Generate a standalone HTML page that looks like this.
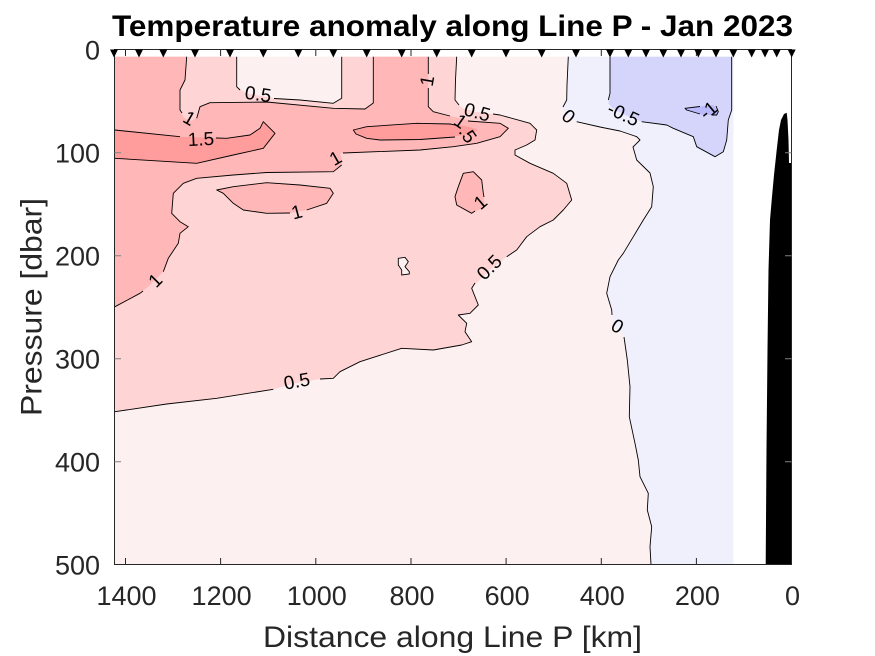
<!DOCTYPE html>
<html>
<head>
<meta charset="utf-8">
<style>
html,body{margin:0;padding:0;background:#fff;}
svg{display:block;}
text{font-family:"Liberation Sans",Arial,sans-serif;}
</style>
</head>
<body>
<svg width="875" height="656" viewBox="0 0 875 656" xmlns="http://www.w3.org/2000/svg">
<rect x="0" y="0" width="875" height="656" fill="#ffffff"/>

<!-- base 0..0.5 -->
<rect x="114.7" y="56.7" width="618.6" height="508" fill="#FDF0F0"/>

<!-- -0.5..0 -->
<polygon fill="#F0F0FD" points="568.3,56.7 567,85 566.7,100 563,107 566,116 576.7,121.7 600,127 620,131 636.7,136.7 640,140 633,147 636.7,160 650,173 653.3,186.7 651.7,206.7 643.3,220 633.3,236.7 623.3,253.3 618.3,260 610,276.7 606.7,293.3 611.7,310 613,320 618,330 625,336.7 627.3,360 630,386.7 629.3,416.7 635,443.3 638.3,460 640,476.7 648.3,493.3 647.3,510 651.7,526.7 650,546.7 651,564.7 733.3,564.7 733.3,56.7"/>

<!-- -1..-0.5 -->
<polygon fill="#D5D5FC" points="610,56.7 610,93.3 608.3,103.3 612,108 625,115 641.7,121.7 666.7,125 673.3,128.3 693.3,136.7 696.7,146.7 715,156.7 723.3,151.7 726.7,140 728.3,120 731.7,110 731.7,56.7"/>

<!-- < -1 -->
<polygon fill="#B9B9FB" points="685,108.3 713.3,105 718.3,111.7 716.7,115 703.3,115 686.7,110"/>

<!-- 0.5..1 -->
<polygon fill="#FFD4D4" points="114.7,56.7 236.7,56.7 236.7,86.7 246.7,93.3 273.3,98.3 300,100 333.3,103.3 341.7,98.3 341.7,56.7 456.7,56.7 455,100 462,108 476.7,112 500,115 530,123.3 536.7,130 535,140 526.7,145 515,150 515,155 530,163.3 553.3,173.3 566.7,183.3 571.7,200 563.3,210 553.3,220 540,226.7 526.7,236.7 516.7,250 506.7,256.7 490,270 476.7,283 471.7,288.3 478.3,305 470,313.3 458.3,315 466.7,323.3 465,331.7 471.7,341.7 461.7,345 433.3,350 401.7,348.3 360,361.7 340,371.7 333.3,378.3 320,379 296,383 273.3,389.3 216.7,398.3 166.7,404 115,411.7 114.7,411.7"/>

<!-- 1..1.5 -->
<polygon fill="#FFB7B7" points="114.7,56.7 186.7,56.7 185,80 180,90 180,110 184,118 192,121 198,116 200,106.7 210,102.7 266.7,102 333.3,108.3 365,109 373.3,103 373.3,56.7 428.3,56.7 428.3,106.7 433.3,111.7 450,116 470,120.5 500,123.3 508.3,128.3 500,136.7 476.7,143.3 453.3,146.7 420,150 340,153.3 342,160 341.7,165 333.3,171.7 266.7,172.5 233.3,175 196.7,178.3 183.3,183.3 173.3,193.3 171.7,213.3 180,221.7 188.3,226.7 180,233.3 178.3,243.3 168.3,258.3 163.3,271.7 150,285 140,293.3 115,306.7 114.7,306.7"/>
<polygon fill="#FFB7B7" points="243.3,210 233.3,203.3 223.3,193.3 216.7,190 233.3,186.7 266.7,182.7 300,185 330,188.3 333.3,193.3 326.7,203.3 306.7,210 290,213 266.7,213.3"/>
<polygon fill="#FFB7B7" points="471.7,213.3 456.7,205 455,196.7 458.3,186.7 463.3,173.3 473.3,171.7 481.7,180 483.3,193.3 485,206.7"/>

<!-- >1.5 -->
<polygon fill="#FF9D9D" points="114.7,130 180,136.7 226.7,138.3 250,135 260,128.3 263.3,121.7 275,133.3 263.3,148.3 233.3,155 196.7,163.3 114.7,158.3"/>
<polygon fill="#FF9D9D" points="353.3,130 366.7,126.7 416.7,123.3 450,124 470,127 478.3,130 470,134 450,137 420,139.5 380,140 366.7,138.3 356,134"/>

<!-- 0..0.5 island -->
<path d="M398.3,258.3 L405,257.3 L408.3,261.7 L405,266.7 L409.3,271.7 L409.3,274 L401.7,275 L401.7,270 L398.3,265 Z" fill="#FDF0F0" stroke="#000" stroke-width="0.9"/>

<!-- contour lines -->
<g fill="none" stroke="#000" stroke-width="0.9" stroke-linejoin="round">
<path d="M236.7,56.7 L236.7,86.7 L240,90 M274,98.5 L300,100 L333.3,103.3 L341.7,98.3 L341.7,56.7"/>
<path d="M456.7,56.7 L455.5,80 L455,100 L459,105 M493,114 L500,115 L530,123.3 L536.7,130 L535,140 L526.7,145 L515,150 L515,155 L530,163.3 L553.3,173.3 L566.7,183.3 L571.7,200 L563.3,210 L553.3,220 L540,226.7 L526.7,236.7 L516.7,250 L506.7,256.7 M475,283 L471.7,288.3 L478.3,305 L470,313.3 L458.3,315 L466.7,323.3 L465,331.7 L471.7,341.7 L461.7,345 L433.3,350 L401.7,348.3 L360,361.7 L340,371.7 L333.3,378.3 L320,379 M273.3,389.3 L216.7,398.3 L166.7,404 L115,411.7"/>
<path d="M186.7,56.7 L185,80 L180,90 L180,110 L182,113 M196.7,118.3 L200,106.7 L210,102.7 L266.7,102 L333.3,108.3 L365,109 L373.3,103 L373.3,56.7"/>
<path d="M428.3,56.7 L428.3,74 M428.3,88 L428.3,106.7 L433.3,111.7 L450,116 M468,121 L500,123.3 L508.3,128.3 L500,136.7 L476.7,143.3 L453.3,146.7 L420,150 L343,153 M341.7,165 L333.3,171.7 L266.7,172.5 L233.3,175 L196.7,178.3 L183.3,183.3 L173.3,193.3 L171.7,213.3 L180,221.7 L188.3,226.7 L180,233.3 L178.3,243.3 L168.3,258.3 L163.3,271.7 M143,291 L140,293.3 L115,306.7"/>
<path d="M290,213 L266.7,213.3 L243.3,210 L233.3,203.3 L223.3,193.3 L216.7,190 L233.3,186.7 L266.7,182.7 L300,185 L330,188.3 L333.3,193.3 L326.7,203.3 L306.7,210"/>
<path d="M484,197 L483.3,193.3 L481.7,180 L473.3,171.7 L463.3,173.3 L458.3,186.7 L455,196.7 L456.7,205 L471.7,213.3 L475,211"/>
<path d="M114.7,130 L180,136.7 M216,138 L226.7,138.3 L250,135 L260,128.3 L263.3,121.7 L275,133.3 L263.3,148.3 L233.3,155 L196.7,163.3 L114.7,158.3"/>
<path d="M455,137 L420,139.5 L380,140 L366.7,138.3 L356,134 L353.3,130 L366.7,126.7 L416.7,123.3 L450,124 L458,125.5"/>
<path d="M568.3,56.7 L567,85 L566.7,100 L563,107 M576.7,121.7 L600,127 L620,131 L636.7,136.7 L640,140 L633,147 L636.7,160 L650,173 L653.3,186.7 L651.7,206.7 L643.3,220 L633.3,236.7 L623.3,253.3 L618.3,260 L610,276.7 L606.7,293.3 L611.7,310 L612,315 M624,337 L627.3,360 L630,386.7 L629.3,416.7 L635,443.3 L638.3,460 L640,476.7 L648.3,493.3 L647.3,510 L651.7,526.7 L650,546.7 L651,564.7"/>
<path d="M610,56.7 L610,93.3 L608.3,100 M641.7,121.7 L666.7,125 L673.3,128.3 L693.3,136.7 L696.7,146.7 L715,156.7 L723.3,151.7 L726.7,140 L728.3,120 L731.7,110 L731.7,56.7"/>
<path d="M700,114 L686.7,110 L685,108.3 L700,106.5 M716,106 L718.3,111.7 L716.7,115 L712,115"/>
</g>

<!-- contour labels -->
<g font-size="19" fill="#000" text-anchor="middle" dominant-baseline="central">
<text transform="translate(258,95) rotate(8)">0.5</text>
<text transform="translate(189,119) rotate(30)">1</text>
<text transform="translate(201,140) rotate(-3)">1.5</text>
<text transform="translate(297,213) rotate(-15)">1</text>
<text transform="translate(156,281) rotate(-45)">1</text>
<text transform="translate(297,382) rotate(-10)">0.5</text>
<text transform="translate(428,81) rotate(-80)">1</text>
<text transform="translate(477,113) rotate(15)">0.5</text>
<text transform="translate(460,122) rotate(35)">1</text>
<text transform="translate(467,135) rotate(55)">.5</text>
<text transform="translate(336,159) rotate(-30)">1</text>
<text transform="translate(481,203) rotate(-40)">1</text>
<text transform="translate(490,268) rotate(-45)">0.5</text>
<text transform="translate(568,117) rotate(40)">0</text>
<text transform="translate(623,115) rotate(25)">-0.5</text>
<text transform="translate(709,111) rotate(-40)">-1</text>
<text transform="translate(617,327) rotate(30)">0</text>
</g>

<!-- bathymetry -->
<polygon fill="#000" points="765.7,564.7 766.5,450 767.5,350 768.5,270 770,220 771.7,200 774,175 776.7,150 779,130 781,120 784,114 786.7,112.7 787.5,120 788.5,140 789,163 791.7,163 791.7,564.7"/>

<!-- axes box -->
<g stroke="#262626" stroke-width="1" fill="none">
<rect x="114.5" y="49.5" width="677" height="515"/>
<!-- x ticks -->
<path d="M125.5,564.5 v-6.5 M220.6,564.5 v-6.5 M315.8,564.5 v-6.5 M411,564.5 v-6.5 M506.1,564.5 v-6.5 M601.3,564.5 v-6.5 M696.4,564.5 v-6.5
M125.5,49.5 v6.5 M220.6,49.5 v6.5 M315.8,49.5 v6.5 M411,49.5 v6.5 M506.1,49.5 v6.5 M601.3,49.5 v6.5 M696.4,49.5 v6.5"/>
<!-- y ticks -->
<path d="M114.5,152.7 h6.5 M114.5,255.7 h6.5 M114.5,358.7 h6.5 M114.5,461.7 h6.5
M791.5,152.7 h-6.5 M791.5,255.7 h-6.5 M791.5,358.7 h-6.5 M791.5,461.7 h-6.5" stroke="#808080"/>
</g>

<!-- station markers -->
<g fill="#000">
<polygon points="110,49.5 118,49.5 114,57.5"/>
<polygon points="135,49.5 143,49.5 139,57.5"/>
<polygon points="159.3,49.5 167.3,49.5 163.3,57.5"/>
<polygon points="191,49.5 199,49.5 195,57.5"/>
<polygon points="226,49.5 234,49.5 230,57.5"/>
<polygon points="259.3,49.5 267.3,49.5 263.3,57.5"/>
<polygon points="294.3,49.5 302.3,49.5 298.3,57.5"/>
<polygon points="329.3,49.5 337.3,49.5 333.3,57.5"/>
<polygon points="362.7,49.5 370.7,49.5 366.7,57.5"/>
<polygon points="397.7,49.5 405.7,49.5 401.7,57.5"/>
<polygon points="432.7,49.5 440.7,49.5 436.7,57.5"/>
<polygon points="467.7,49.5 475.7,49.5 471.7,57.5"/>
<polygon points="502,49.5 510,49.5 506,57.5"/>
<polygon points="537.7,49.5 545.7,49.5 541.7,57.5"/>
<polygon points="572,49.5 580,49.5 576,57.5"/>
<polygon points="606,49.5 614,49.5 610,57.5"/>
<polygon points="624.3,49.5 632.3,49.5 628.3,57.5"/>
<polygon points="642,49.5 650,49.5 646,57.5"/>
<polygon points="659.3,49.5 667.3,49.5 663.3,57.5"/>
<polygon points="677,49.5 685,49.5 681,57.5"/>
<polygon points="694.3,49.5 702.3,49.5 698.3,57.5"/>
<polygon points="712,49.5 720,49.5 716,57.5"/>
<polygon points="729.3,49.5 737.3,49.5 733.3,57.5"/>
<polygon points="747.7,49.5 755.7,49.5 751.7,57.5"/>
<polygon points="761,49.5 769,49.5 765,57.5"/>
<polygon points="772.7,49.5 780.7,49.5 776.7,57.5"/>
<polygon points="787.7,49.5 795.7,49.5 791.7,57.5"/>
</g>

<!-- tick labels -->
<g font-size="27" fill="#262626" text-anchor="middle">
<text x="126.5" y="605">1400</text>
<text x="221.6" y="605">1200</text>
<text x="316.8" y="605">1000</text>
<text x="412" y="605">800</text>
<text x="507.1" y="605">600</text>
<text x="602.3" y="605">400</text>
<text x="697.4" y="605">200</text>
<text x="792.5" y="605">0</text>
</g>
<g font-size="27" fill="#262626" text-anchor="end">
<text x="100" y="59.5">0</text>
<text x="100" y="162.5">100</text>
<text x="100" y="265.5">200</text>
<text x="100" y="368.5">300</text>
<text x="100" y="471.5">400</text>
<text x="100" y="574.5">500</text>
</g>

<!-- axis labels -->
<text x="452.5" y="647" font-size="30" fill="#262626" text-anchor="middle" textLength="379" lengthAdjust="spacingAndGlyphs">Distance along Line P [km]</text>
<text transform="translate(41.5,307) rotate(-90)" font-size="30" fill="#262626" text-anchor="middle" textLength="218" lengthAdjust="spacingAndGlyphs">Pressure [dbar]</text>

<!-- title -->
<text x="452.5" y="36" font-size="30" font-weight="bold" fill="#000" text-anchor="middle" textLength="681" lengthAdjust="spacingAndGlyphs">Temperature anomaly along Line P - Jan 2023</text>
</svg>
</body>
</html>
